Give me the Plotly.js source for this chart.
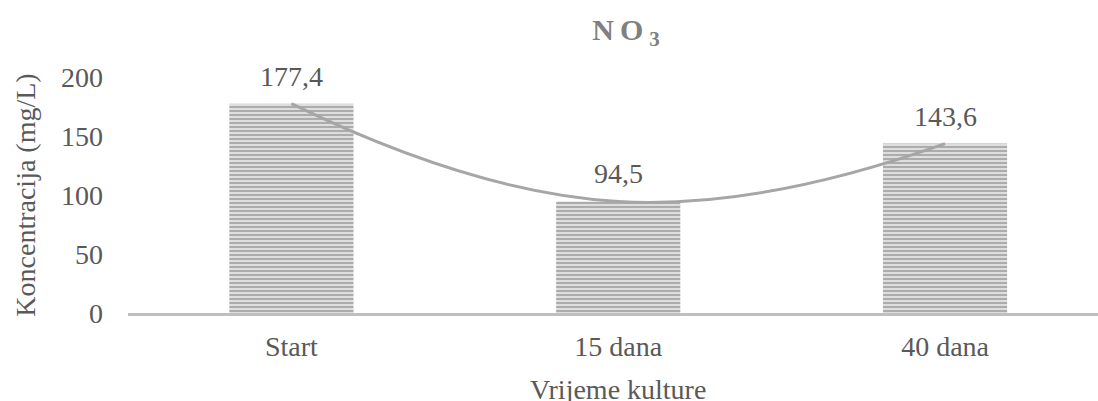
<!DOCTYPE html>
<html>
<head>
<meta charset="utf-8">
<script src="https://cdn.plot.ly/plotly-3.0.1.min.js"></script>
<style>html,body{margin:0;padding:0;background:#fff;}#chart{width:1098px;height:401px;}</style>
</head>
<body>
<div id="chart"></div>
<script>
const categories = ['Start', '15 dana', '40 dana'];
const values = [177.4, 94.5, 143.6];
const valueLabels = values.map(v => v.toFixed(1).replace('.', ','));
const yTickVals = [0, 50, 100, 150, 200];
const xTitle = 'Vrijeme kulture';
const yTitle = 'Koncentracija (mg/L)';

const FONT = 'Liberation Serif, Times New Roman, serif';
const TXT = '#595959';

const bars = {
  type: 'bar',
  x: categories,
  y: values,
  width: 0.38,
  marker: {
    color: '#d9d9d9',
    line: {width: 0},
    pattern: {shape: '-', size: 4, solidity: 0.45, fgcolor: '#a6a6a6', bgcolor: '#dedede', fillmode: 'replace'}
  },
  hoverinfo: 'skip',
  showlegend: false
};

const trend = {
  type: 'scatter',
  mode: 'lines',
  x: categories,
  y: values,
  line: {shape: 'spline', smoothing: 1.3, color: '#a6a6a6', width: 3},
  hoverinfo: 'skip',
  showlegend: false
};

const annotations = categories.map((c, i) => ({
  x: c, y: values[i], xref: 'x', yref: 'y',
  text: valueLabels[i], showarrow: false,
  yanchor: 'bottom', yshift: 10,
  font: {family: FONT, size: 28, color: TXT}
}));
annotations.push({
  x: 0.505, y: 0, xref: 'paper', yref: 'paper',
  text: xTitle, showarrow: false,
  xanchor: 'center', yanchor: 'middle', yshift: -76,
  font: {family: FONT, size: 28, color: TXT}
});

const layout = {
  width: 1098, height: 401,
  margin: {l: 128, r: 0, t: 77, b: 88, pad: 0},
  paper_bgcolor: '#ffffff', plot_bgcolor: '#ffffff',
  font: {family: FONT, size: 28, color: TXT},
  title: {
    text: '<b>N\u2009O\u2009<sub>3</sub></b>',
    font: {family: FONT, size: 30, color: '#808080'},
    x: 626 / 1098, xref: 'container', xanchor: 'center',
    y: 1 - 29 / 401, yref: 'container', yanchor: 'middle'
  },
  xaxis: {
    type: 'category',
    range: [-0.5, 2.468],
    showgrid: false, zeroline: false,
    showline: true, linecolor: '#bfbfbf', linewidth: 3,
    ticks: '', ticklabelstandoff: 6,
    tickfont: {family: FONT, size: 28, color: TXT},
    fixedrange: true
  },
  yaxis: {
    range: [0, 200],
    tickvals: yTickVals,
    ticktext: yTickVals.map(String),
    showgrid: false, zeroline: false, showline: false,
    ticks: '', ticklabelstandoff: 24,
    tickfont: {family: FONT, size: 28, color: TXT},
    title: {text: yTitle, font: {family: FONT, size: 28, color: TXT}, standoff: 17},
    fixedrange: true
  },
  annotations: annotations,
  showlegend: false
};

Plotly.newPlot('chart', [bars, trend], layout, {staticPlot: true, displayModeBar: false});
</script>
</body>
</html>
